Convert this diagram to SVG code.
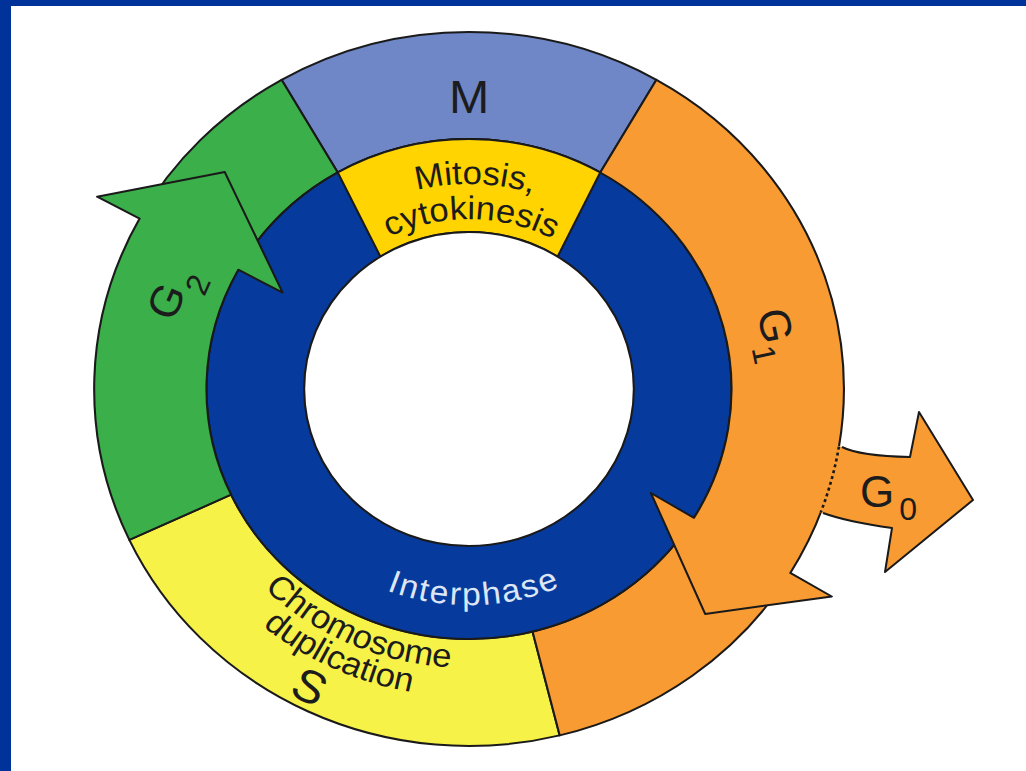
<svg xmlns="http://www.w3.org/2000/svg" width="1026" height="771" viewBox="0 0 1026 771">
<style>
.ol{stroke:#1a1a1a;stroke-width:2;stroke-linejoin:round}
.lbl{font-family:"Liberation Sans",Arial,sans-serif;fill:#1c1c1c}
.wl{font-family:"Liberation Sans",Arial,sans-serif;fill:#dde6f6}
</style>
<defs>
<path id="pMit" d="M -131.8 -157 A 205 205 0 0 1 131.8 -157"/>
<path id="pCyt" d="M -159.7 -58.1 A 170 170 0 0 1 159.7 -58.1"/>
<path id="pInt" d="M -203 73.9 A 216 216 0 0 0 203 73.9"/>
<path id="pChr" d="M -277.5 29.2 A 279 279 0 0 0 164 225.7"/>
<path id="pDup" d="M -306.8 26.8 A 308 308 0 0 0 176.7 252.3"/>
<path id="pS" d="M -293.5 190.6 A 350 350 0 0 0 18.3 349.5"/>
</defs>
<rect x="0" y="0" width="1026" height="771" fill="#003399"/>
<rect x="11" y="6" width="1015" height="765" fill="#ffffff"/>
<g transform="translate(469,389) scale(1.05,1)">
  <g id="seg-M">
    <path class="ol" fill="#6f87c7" d="M -178.5 -309.2 A 357 357 0 0 1 178.5 -309.2 L 125 -216.5 A 250 250 0 0 0 -125 -216.5 Z"/>
    <text class="lbl" x="0" y="-276" font-size="46" text-anchor="middle">M</text>
  </g>
  <g id="seg-S">
    <path class="ol" fill="#f7f247" d="M 86.4 346.4 A 357 357 0 0 1 -323.5 150.9 L -226.6 105.7 A 250 250 0 0 0 60.5 242.6 Z"/>
    <text class="lbl" font-size="33"><textPath href="#pChr" startOffset="50%" text-anchor="middle">Chromosome</textPath></text>
    <text class="lbl" font-size="33"><textPath href="#pDup" startOffset="50%" text-anchor="middle">duplication</textPath></text>
    <text class="lbl" font-size="46"><textPath href="#pS" startOffset="50%" text-anchor="middle">S</textPath></text>
  </g>
  <g id="seg-G2-tail">
    <path class="ol" fill="#3baf4a" d="M -313.7 -170.4 A 357 357 0 0 1 -178.5 -309.2 L -125 -216.5 A 250 250 0 0 0 -219.7 -119.3 Z"/>
  </g>
  <g id="seg-G1-tail">
    <path class="ol" fill="#f99b33" d="M 306 183.9 A 357 357 0 0 1 86.4 346.4 L 60.5 242.6 A 250 250 0 0 0 214.3 128.8 Z"/>
  </g>
  <g id="interphase">
    <circle class="ol" cx="0" cy="0" r="250" fill="#063b9d"/>
    <text class="wl" font-size="32" letter-spacing="2"><textPath href="#pInt" startOffset="51%" text-anchor="middle">Interphase</textPath></text>
  </g>
  <g id="mitosis">
    <path class="ol" fill="#ffd400" d="M -125 -216.5 A 250 250 0 0 1 125 -216.5 L 84.4 -132.4 A 157 157 0 0 0 -84.4 -132.4 Z"/>
    <text class="lbl" font-size="33"><textPath href="#pMit" startOffset="52%" text-anchor="middle">Mitosis,</textPath></text>
    <text class="lbl" font-size="33"><textPath href="#pCyt" startOffset="50.5%" text-anchor="middle">cytokinesis</textPath></text>
  </g>
  <circle id="center" class="ol" cx="0" cy="0" r="157" fill="#ffffff"/>
  <g id="G2">
    <path class="ol" fill="#3baf4a" d="M -226.6 105.7 L -323.5 150.9 A 357 357 0 0 1 -313.7 -170.4 L -354.2 -192.3 L -232.6 -216.9 L -177.5 -96.4 L -219.7 -119.3 A 250 250 0 0 0 -226.6 105.7 Z"/>
  </g>
  <g id="G1">
    <path class="ol" fill="#f99b33" d="M 178.5 -309.2 A 357 357 0 0 1 306 183.9 L 345.5 207.5 L 224.9 224.9 L 173.2 104 L 214.3 128.8 A 250 250 0 0 0 125 -216.5 Z"/>
  </g>
</g>
<g id="G0">
  <path fill="#f99b33" d="M 842 447 Q 860 456 910 457 L 919 412 L 973 500 L 885 572 L 892 528 Q 848 522 823 513 L 812 510 L 832 444 Z"/>
  <path class="ol" fill="none" d="M 842 447 Q 860 456 910 457 L 919 412 L 973 500 L 885 572 L 892 528 Q 848 522 823 513"/>
</g>
<g id="connectors">
  <path transform="translate(469,389) scale(1.05,1)" fill="none" stroke="#1a1a1a" stroke-width="2.5" stroke-dasharray="3 3" d="M 352.3 57.7 A 357 357 0 0 1 335 123.3"/>
</g>
<g id="labels">
  <text class="lbl" font-size="44" transform="translate(757,312) rotate(78)">G<tspan font-size="32" dy="13">1</tspan></text>
  <text class="lbl" font-size="44" transform="translate(173,323) rotate(-66)">G<tspan font-size="32" dx="2" dy="18">2</tspan></text>
  <text class="lbl" font-size="44" x="860" y="507">G<tspan font-size="32" dx="5" dy="13">0</tspan></text>
</g>
</svg>
